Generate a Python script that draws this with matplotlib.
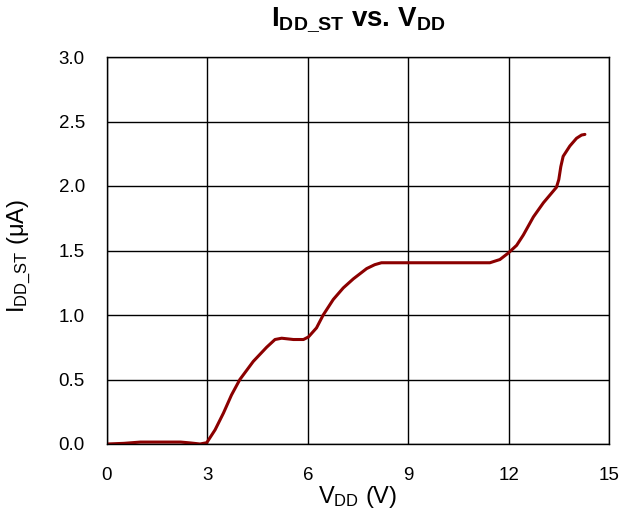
import matplotlib
matplotlib.use("Agg")
import matplotlib.pyplot as plt
from matplotlib import font_manager

# values
vdd = [0.0, 0.5, 1.0, 1.5, 2.2, 2.5, 2.78, 2.98, 3.23, 3.48, 3.72, 3.97, 4.37, 4.77,
       5.02, 5.22, 5.57, 5.87, 6.02, 6.26, 6.46, 6.76, 7.06, 7.36, 7.76, 8.0, 8.2,
       9.0, 10.0, 11.0, 11.44, 11.74, 11.99, 12.24, 12.44, 12.74, 13.04, 13.3,
       13.43, 13.5, 13.56, 13.63, 13.83, 14.03, 14.18, 14.28]
idd = [0.0, 0.005, 0.015, 0.015, 0.015, 0.008, 0.0, 0.01, 0.11, 0.24, 0.38, 0.5,
       0.64, 0.75, 0.81, 0.82, 0.81, 0.81, 0.83, 0.9, 1.0, 1.12, 1.21, 1.28, 1.36,
       1.39, 1.405, 1.405, 1.405, 1.405, 1.405, 1.43, 1.48, 1.54, 1.62, 1.76, 1.87,
       1.95, 1.99, 2.05, 2.15, 2.23, 2.31, 2.37, 2.395, 2.40]

x_ticks = [0, 3, 6, 9, 12, 15]
y_ticks = [0.0, 0.5, 1.0, 1.5, 2.0, 2.5, 3.0]

installed = {f.name for f in font_manager.fontManager.ttflist}
family = "Liberation Sans" if "Liberation Sans" in installed else "DejaVu Sans"
title_family = "Liberation Sans Narrow" if "Liberation Sans Narrow" in installed else family

plt.rcParams["font.family"] = family
plt.rcParams["mathtext.fontset"] = "custom"
plt.rcParams["mathtext.rm"] = family
plt.rcParams["mathtext.bf"] = family + ":bold"

fig = plt.figure(figsize=(6.2, 5.22), dpi=100)
ax = fig.add_axes([107 / 620, 78 / 522, 502 / 620, 387 / 522])

ax.plot(vdd, idd, color="#8b0000", linewidth=2.2, solid_capstyle="round",
        solid_joinstyle="round")

ax.set_xlim(0, 15)
ax.set_ylim(0, 3)
ax.set_xticks(x_ticks)
ax.set_yticks(y_ticks)
ax.set_yticklabels([f"{v:.1f}" for v in y_ticks])
ax.grid(True, color="black", linewidth=1.0)
ax.set_axisbelow(True)
for s in ax.spines.values():
    s.set_color("black")
    s.set_linewidth(1.0)
ax.tick_params(axis="x", length=0, pad=16.5, labelsize=13.5)
ax.tick_params(axis="y", length=0, pad=16, labelsize=13.5)

ax.set_xlabel(r"$\mathregular{V_{DD}}$ (V)", fontsize=17, labelpad=0)
ax.set_ylabel(r"$\mathregular{I_{DD\_ST}}$ (μA)", fontsize=17)
ax.yaxis.set_label_coords(-0.147, 0.487)
fig.text(0.5 * (107 + 609) / 620, 1 - 20 / 522,
         r"$\mathbf{I_{DD\_ST}}$ vs. $\mathbf{V_{DD}}$",
         ha="center", va="center", fontsize=20, fontweight="bold", family=title_family)

fig.savefig("out.png", dpi=100)
